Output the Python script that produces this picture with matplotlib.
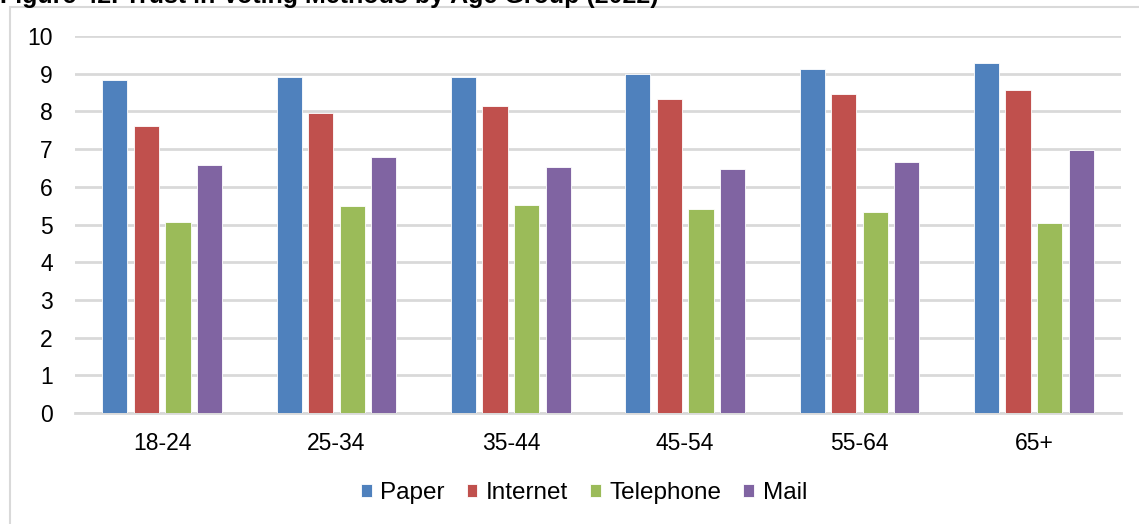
import numpy as np
import matplotlib.pyplot as plt
from matplotlib.patches import Rectangle

# data
groups = ['18-24', '25-34', '35-44', '45-54', '55-64', '65+']
series = ['Paper', 'Internet', 'Telephone', 'Mail']
paper = [8.83, 8.92, 8.92, 8.98, 9.12, 9.28]
internet = [7.60, 7.95, 8.15, 8.32, 8.45, 8.58]
telephone = [5.07, 5.48, 5.52, 5.42, 5.32, 5.05]
mail = [6.57, 6.80, 6.52, 6.47, 6.65, 6.98]
colors = ['#4F81BD', '#C0504D', '#9BBB59', '#8064A2']

plt.rcParams['font.family'] = ['Liberation Sans', 'DejaVu Sans']

W, H = 1139, 524
fig = plt.figure(figsize=(W / 100, H / 100), dpi=100)

# outer chart border (gray frame)
fig.patches.append(Rectangle((10 / W, -0.05), 1.2, 1 - 7 / H + 0.05,
                             transform=fig.transFigure, fill=False,
                             edgecolor='#d9d9d9', linewidth=1.5))

# title sits mostly above the visible area, as in the original crop
fig.text(0.0, 1 - 3 / H, 'Figure 42. Trust in Voting Methods by Age Group (2022)',
         fontsize=18, fontweight='bold', va='baseline', ha='left')

ax = fig.add_axes([75 / W, (H - 413) / H, (1121 - 75) / W, (413 - 36) / H])

x = np.arange(len(groups))
step = 0.181
width = 0.145
for i, (vals, name) in enumerate(zip([paper, internet, telephone, mail], series)):
    ax.bar(x + (i - 1.5) * step, vals, width, color=colors[i], label=name,
           edgecolor='white', linewidth=0.6, zorder=3)

ax.set_xlim(-0.5, len(groups) - 0.5)
ax.set_ylim(0, 10)
ax.set_yticks(range(0, 11))
ax.set_xticks(x)
ax.set_xticklabels(groups)
ax.tick_params(axis='both', length=0, labelsize=16.5)
ax.tick_params(axis='y', pad=16)
ax.tick_params(axis='x', pad=14)
ax.grid(axis='y', color='#d9d9d9', linewidth=2, zorder=0)
for s in ['top', 'right', 'left']:
    ax.spines[s].set_visible(False)
ax.spines['bottom'].set_color('#d9d9d9')
ax.spines['bottom'].set_linewidth(2)

fig.legend(loc='center', bbox_to_anchor=(584 / W, 1 - 493 / H), ncol=4,
           frameon=False, fontsize=17.5, handlelength=0.45, handleheight=0.45,
           handletextpad=0.35, columnspacing=0.9)

fig.savefig('out.png', dpi=100)
